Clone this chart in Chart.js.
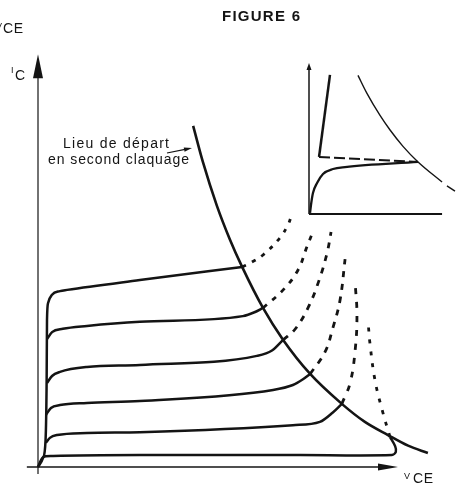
<!DOCTYPE html>
<html><head><meta charset="utf-8">
<script src="https://cdn.jsdelivr.net/npm/chart.js@4/dist/chart.umd.min.js"></script>
<style>html,body{margin:0;padding:0;background:#fff}#wrap{width:460px;height:487px;position:relative}</style>
</head><body><div id="wrap"><canvas id="c"></canvas></div>
<script>
// ---- Main diagram: V_CE (arbitrary units 0..100), I_C (arbitrary units 0..100)
// Locus of onset of second breakdown
const LOCUS_V = [43.1,45.8,49.7,53.3,56.7,62.5,68.1,75.6,84.4,90.8,97.2,102.8,108.3];
const LOCUS_I = [83.2,74.4,63.7,55.5,48.8,38.8,31.0,22.7,15.4,11.0,7.8,5.2,3.4];

// Output characteristics (solid), one per base current step
const IB0_V = [0,1.4,4.2,28.3,72.8,98.3,99.4,99.2,97.8];
const IB0_I = [0,2.4,2.7,2.9,2.9,2.9,3.7,5.1,7.3];
const IB1_V = [2.2,3.3,5.3,13.6,28.3,70.8,78.3,81.9,84.4];
const IB1_I = [5.9,7.1,7.8,8.3,8.5,10.2,11.0,13.3,15.4];
const IB2_V = [2.2,3.6,6.1,13.6,28.3,65.3,70.8,73.6,75.6];
const IB2_I = [12.7,14.4,15.1,15.6,16.1,18.8,20.0,21.4,22.7];
const IB3_V = [2.5,3.9,6.1,13.6,28.3,60.8,65.0,68.1];
const IB3_I = [20.5,22.2,23.2,24.4,24.9,27.1,28.4,31.0];
const IB4_V = [2.5,3.9,6.9,13.6,28.3,56.9,60.3,62.5];
const IB4_I = [31.2,32.9,33.7,34.4,35.4,36.8,37.8,38.8];
const IB5_V = [0,1.4,2.1,2.4,2.5,2.8,3.9,6.1,8.1,28.3,56.7];
const IB5_I = [0,2.2,6.6,21.2,35.9,40.0,42.0,42.9,43.2,45.6,48.8];

// Continuations beyond the locus (dotted / dashed)
const EX0_V = [97.8,95.6,93.6,92.2,91.7];   const EX0_I = [7.3,13.9,21.2,30.2,35.4];
const EX1_V = [84.4,86.7,88.1,88.6,88.1];   const EX1_I = [15.4,20.5,28.5,37.1,44.9];
const EX2_V = [75.6,79.7,81.9,83.9,85.3];   const EX2_I = [22.7,28.0,33.9,40.7,50.7];
const EX3_V = [68.1,71.4,75.0,78.1,80.3,81.4]; const EX3_I = [31.0,33.6,38.8,45.6,52.2,57.3];
const EX4_V = [62.5,68.1,72.2,74.7,76.1];   const EX4_I = [38.8,43.2,48.0,53.7,56.8];
const EX5_V = [56.7,59.4,62.5,67.2,69.4,70.3]; const EX5_I = [48.8,50.0,51.7,55.9,59.0,61.0];

// ---- Inset (own units 0..100)
const INSET_LOCUS_V = [37.1,43.9,53.8,61.4,71.2,82.6,100.8];
const INSET_LOCUS_I = [92.4,80.4,65.7,56.0,45.1,34.7,21.3];
const INSET_TAIL_V = [104.5,110.6];  const INSET_TAIL_I = [18.7,15.3];
const INSET_SURGE_V = [15.9,7.6];    const INSET_SURGE_I = [92.7,38.0];
const INSET_PLAT_V = [7.6,82.6];     const INSET_PLAT_I = [38.0,34.7];
const INSET_CURVE_V = [0.8,1.5,3.0,6.1,10.6,18.2,27.3,82.6];
const INSET_CURVE_I = [0.7,6.0,14.0,20.7,26.7,30.0,31.3,34.7];

// Axis extents
const MAIN_Y_TIP = 100.7, MAIN_Y_BASE = 94.9, MAIN_Y_LOW = -1.7;
const MAIN_X_TIP = 100, MAIN_X_BASE = 94.5, MAIN_X_LOW = -3.1;
const INSET_Y_TIP = 100.7, INSET_Y_BASE = 97, INSET_X_END = 100.8;

// ---- layout (scale windows)
const X_MIN = -10.556, X_MAX = 117.222, Y_MIN = -4.878, Y_MAX = 113.902;
const X2_MIN = -234.09, X2_MAX = 114.39, Y2_MIN = -182, Y2_MAX = 142.67;

const INK = '#141414';
const pts = (xs, ys) => xs.map((v, i) => ({x: v, y: ys[i]}));

function ds(xs, ys, o) {
  return Object.assign({
    data: pts(xs, ys), showLine: true, pointRadius: 0, borderColor: INK,
    borderWidth: 2.5, fill: false, tension: 0.4, borderCapStyle: 'butt',
    borderJoinStyle: 'round', xAxisID: 'x', yAxisID: 'y'
  }, o || {});
}
const mono = {cubicInterpolationMode: 'monotone'};
const inset = {xAxisID: 'x2', yAxisID: 'y2'};

const datasets = [
  // main axes
  ds([0,0],[MAIN_Y_LOW,MAIN_Y_BASE],{borderWidth:1.2,tension:0}),
  ds([MAIN_X_LOW,MAIN_X_BASE],[0,0],{borderWidth:1.6,tension:0}),
  // locus
  ds(LOCUS_V, LOCUS_I, Object.assign({borderWidth:2.6}, mono)),
  // characteristics
  ds(IB0_V, IB0_I, {tension:0.3}),
  ds(IB1_V, IB1_I, mono),
  ds(IB2_V, IB2_I, mono),
  ds(IB3_V, IB3_I, mono),
  ds(IB4_V, IB4_I, mono),
  ds(IB5_V, IB5_I, mono),
  // continuations
  ds(EX0_V, EX0_I, {borderWidth:2.8, borderDash:[4,8]}),
  ds(EX1_V, EX1_I, {borderWidth:2.8, borderDash:[6,8]}),
  ds(EX2_V, EX2_I, {borderWidth:2.8, borderDash:[6,7]}),
  ds(EX3_V, EX3_I, {borderWidth:2.8, borderDash:[6,7]}),
  ds(EX4_V, EX4_I, {borderWidth:2.8, borderDash:[5,7]}),
  ds(EX5_V, EX5_I, {borderWidth:2.8, borderDash:[4,7]}),
  // inset
  ds([0,0],[0,INSET_Y_BASE], Object.assign({borderWidth:1.5,tension:0}, inset)),
  ds([0,INSET_X_END],[0,0], Object.assign({borderWidth:2,tension:0}, inset)),
  ds(INSET_LOCUS_V, INSET_LOCUS_I, Object.assign({borderWidth:1.4}, inset, mono)),
  ds(INSET_TAIL_V, INSET_TAIL_I, Object.assign({borderWidth:1.4,tension:0}, inset)),
  ds(INSET_SURGE_V, INSET_SURGE_I, Object.assign({borderWidth:2.5,tension:0}, inset)),
  ds(INSET_PLAT_V, INSET_PLAT_I, Object.assign({borderWidth:2,tension:0,borderDash:[11,4]}, inset)),
  ds(INSET_CURVE_V, INSET_CURVE_I, Object.assign({borderWidth:2.3}, inset, mono))
];

function arrowHead(ctx, tx, ty, dx, dy, len, hw) {
  const bx = tx - dx*len, by = ty - dy*len, px = -dy, py = dx;
  ctx.beginPath();
  ctx.moveTo(tx, ty);
  ctx.lineTo(bx + px*hw, by + py*hw);
  ctx.lineTo(bx - px*hw, by - py*hw);
  ctx.closePath();
  ctx.fill();
}
function spacedText(ctx, s, x, yb, w) {
  const chars = [...s];
  let total = 0;
  const ws = chars.map(c => { const m = ctx.measureText(c).width; total += m; return m; });
  const ls = chars.length > 1 ? (w - total)/(chars.length - 1) : 0;
  let cx = x;
  chars.forEach((c, i) => { ctx.fillText(c, cx, yb); cx += ws[i] + ls; });
}

const FONT = '"Liberation Sans", Arial, Helvetica, sans-serif';
const decor = {
  id: 'decor',
  afterDatasetsDraw(chart) {
    const {ctx} = chart;
    const {x, y, x2, y2} = chart.scales;
    ctx.save();
    ctx.fillStyle = INK; ctx.strokeStyle = INK;
    // arrowheads
    arrowHead(ctx, x.getPixelForValue(0), y.getPixelForValue(MAIN_Y_TIP), 0, -1, 24, 5);
    arrowHead(ctx, x.getPixelForValue(MAIN_X_TIP), y.getPixelForValue(0), 1, 0, 20, 3.6);
    arrowHead(ctx, x2.getPixelForValue(0), y2.getPixelForValue(INSET_Y_TIP), 0, -1, 7, 2.5);
    // annotation arrow
    ctx.lineWidth = 1.2;
    ctx.beginPath(); ctx.moveTo(167, 153); ctx.lineTo(185, 149.4); ctx.stroke();
    arrowHead(ctx, 192, 148, 0.98, -0.2, 8, 2.2);
    // texts
    ctx.textBaseline = 'alphabetic';
    ctx.font = 'bold 15px ' + FONT;
    spacedText(ctx, 'FIGURE 6', 222, 21, 78);
    ctx.font = '14px ' + FONT;
    spacedText(ctx, 'Lieu de départ', 63, 148, 106);
    spacedText(ctx, 'en second claquage', 48, 164, 141);
    // top-left clipped V_CE
    ctx.font = '9px ' + FONT; ctx.fillText('V', -4, 28.5);
    ctx.font = '14px ' + FONT; spacedText(ctx, 'CE', 3, 33, 20);
    // I_C
    ctx.font = '9px ' + FONT; ctx.fillText('I', 11, 73);
    ctx.font = '14px ' + FONT; ctx.fillText('C', 15, 80);
    // V_CE at x-axis end
    ctx.font = '9px ' + FONT; ctx.fillText('V', 404, 479);
    ctx.font = '14px ' + FONT; spacedText(ctx, 'CE', 413, 483, 20);
    ctx.restore();
  }
};

new Chart(document.getElementById('c'), {
  type: 'scatter',
  data: {datasets},
  options: {
    responsive: true, maintainAspectRatio: false, animation: false,
    layout: {padding: 0},
    plugins: {legend: {display: false}, tooltip: {enabled: false}, title: {display: false}},
    elements: {line: {capBezierPoints: false}},
    scales: {
      x: {type: 'linear', display: false, min: X_MIN, max: X_MAX},
      y: {type: 'linear', display: false, min: Y_MIN, max: Y_MAX},
      x2: {type: 'linear', axis: 'x', display: false, min: X2_MIN, max: X2_MAX},
      y2: {type: 'linear', axis: 'y', display: false, min: Y2_MIN, max: Y2_MAX}
    }
  },
  plugins: [decor]
});
</script>
</body></html>
